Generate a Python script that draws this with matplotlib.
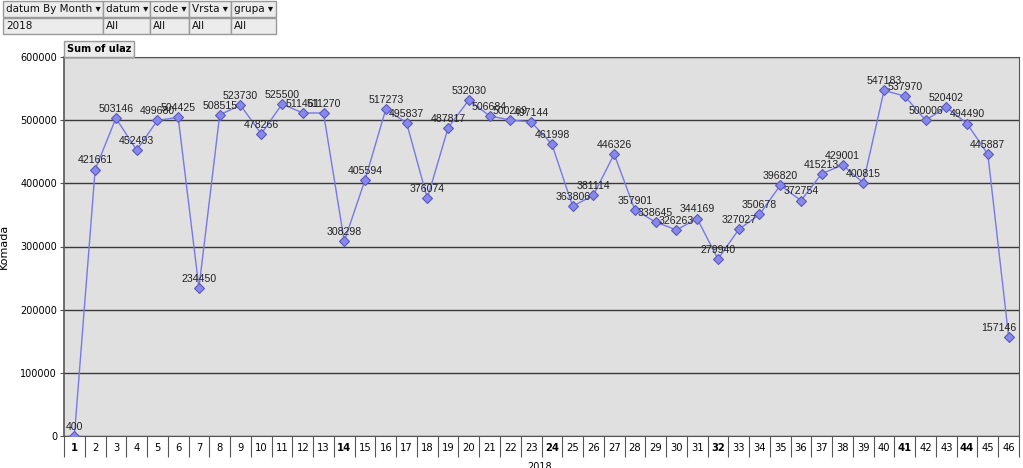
import matplotlib.pyplot as plt
from matplotlib.patches import Rectangle
import numpy as np

# weekly sums of "ulaz", 2018
weeks = [str(i) for i in range(1, 47)]
ulaz = [400, 421661, 503146, 452493, 499680, 504425, 234450, 508515, 523730, 478266,
        525500, 511461, 511270, 308298, 405594, 517273, 495837, 376074, 487817, 532030,
        506684, 500269, 497144, 461998, 363806, 381114, 446326, 357901, 338645, 326263,
        344169, 279940, 327027, 350678, 396820, 372754, 415213, 429001, 400815, 547183,
        537970, 500006, 520402, 494490, 445887, 157146]
bold_weeks = ["1", "14", "24", "32", "41", "44"]

header_names = ["datum By Month", "datum", "code", "Vrsta", "grupa"]
header_values = ["2018", "All", "All", "All", "All"]
header_edges = [3, 103, 150, 189, 231, 276]

W, H = 1023, 468
fig = plt.figure(figsize=(W / 100, H / 100), dpi=100)
plt.rcParams['font.family'] = 'DejaVu Sans'


def fx(x):
    return x / W


def fy(y):
    return 1 - y / H


# pivot table header
for row, texts, y0, y1 in [(0, header_names, 1, 17), (1, header_values, 18, 34)]:
    for i, t in enumerate(texts):
        x0, x1 = header_edges[i], header_edges[i + 1]
        fig.add_artist(Rectangle((fx(x0), fy(y1)), fx(x1 - x0), (y1 - y0) / H,
                                 transform=fig.transFigure, facecolor="#ececec",
                                 edgecolor="#9a9a9a", linewidth=1))
        label = t + " \u25be" if row == 0 else t
        fig.text(fx(x0 + 3), fy((y0 + y1) / 2), label, fontsize=7.5,
                 va="center", ha="left", color="#111111")

# "Sum of ulaz" field button
fig.add_artist(Rectangle((fx(64), fy(57)), fx(70), 16 / H, transform=fig.transFigure,
                         facecolor="#ececec", edgecolor="#9a9a9a", linewidth=1))
fig.text(fx(67), fy(48.5), "Sum of ulaz", fontsize=7, fontweight="bold",
         va="center", ha="left")

ax = fig.add_axes([fx(64), fy(436), fx(955), (436 - 57) / H])
ax.set_facecolor("#e0e0e0")
x = np.arange(len(weeks))
ax.plot(x, ulaz, color="#7878e8", linewidth=1, marker="D", markersize=5,
        markerfacecolor="#8888ec", markeredgecolor="#5a5ab8", markeredgewidth=0.8,
        zorder=3)

for i, v in enumerate(ulaz):
    dx = -7 if i == len(ulaz) - 1 else 0
    ax.annotate(str(v), (x[i], v), xytext=(dx, 3), textcoords="offset points",
                ha="center", va="bottom", fontsize=7.6, family="Liberation Sans",
                color="#222222", zorder=4)

ax.set_xlim(-0.5, len(weeks) - 0.5)
ax.set_ylim(0, 600000)
ax.set_yticks(np.arange(0, 600001, 100000))
ax.set_yticklabels([str(v) for v in range(0, 600001, 100000)], fontsize=7)
ax.grid(axis="y", color="#3a3a3a", linewidth=1)
ax.set_axisbelow(True)

ax.set_xticks(x)
ax.set_xticklabels(weeks, fontsize=7.2)
for lbl in ax.get_xticklabels():
    if lbl.get_text() in bold_weeks:
        lbl.set_fontweight("bold")
ax.tick_params(axis="x", which="major", length=0, pad=5)
ax.set_xticks(np.arange(-0.5, len(weeks), 1), minor=True)
ax.tick_params(axis="x", which="minor", length=15, width=0.8, color="#555555")
ax.tick_params(axis="y", length=3, color="#555555", pad=2)

for side in ["top", "bottom", "left", "right"]:
    ax.spines[side].set_color("#555555")
ax.spines["left"].set_linewidth(1.2)

ax.set_ylabel("Komada", fontsize=8, labelpad=8)
fig.text(fx(540), fy(467), "2018", fontsize=7, ha="center", va="center")

fig.savefig("out.png", dpi=100)
